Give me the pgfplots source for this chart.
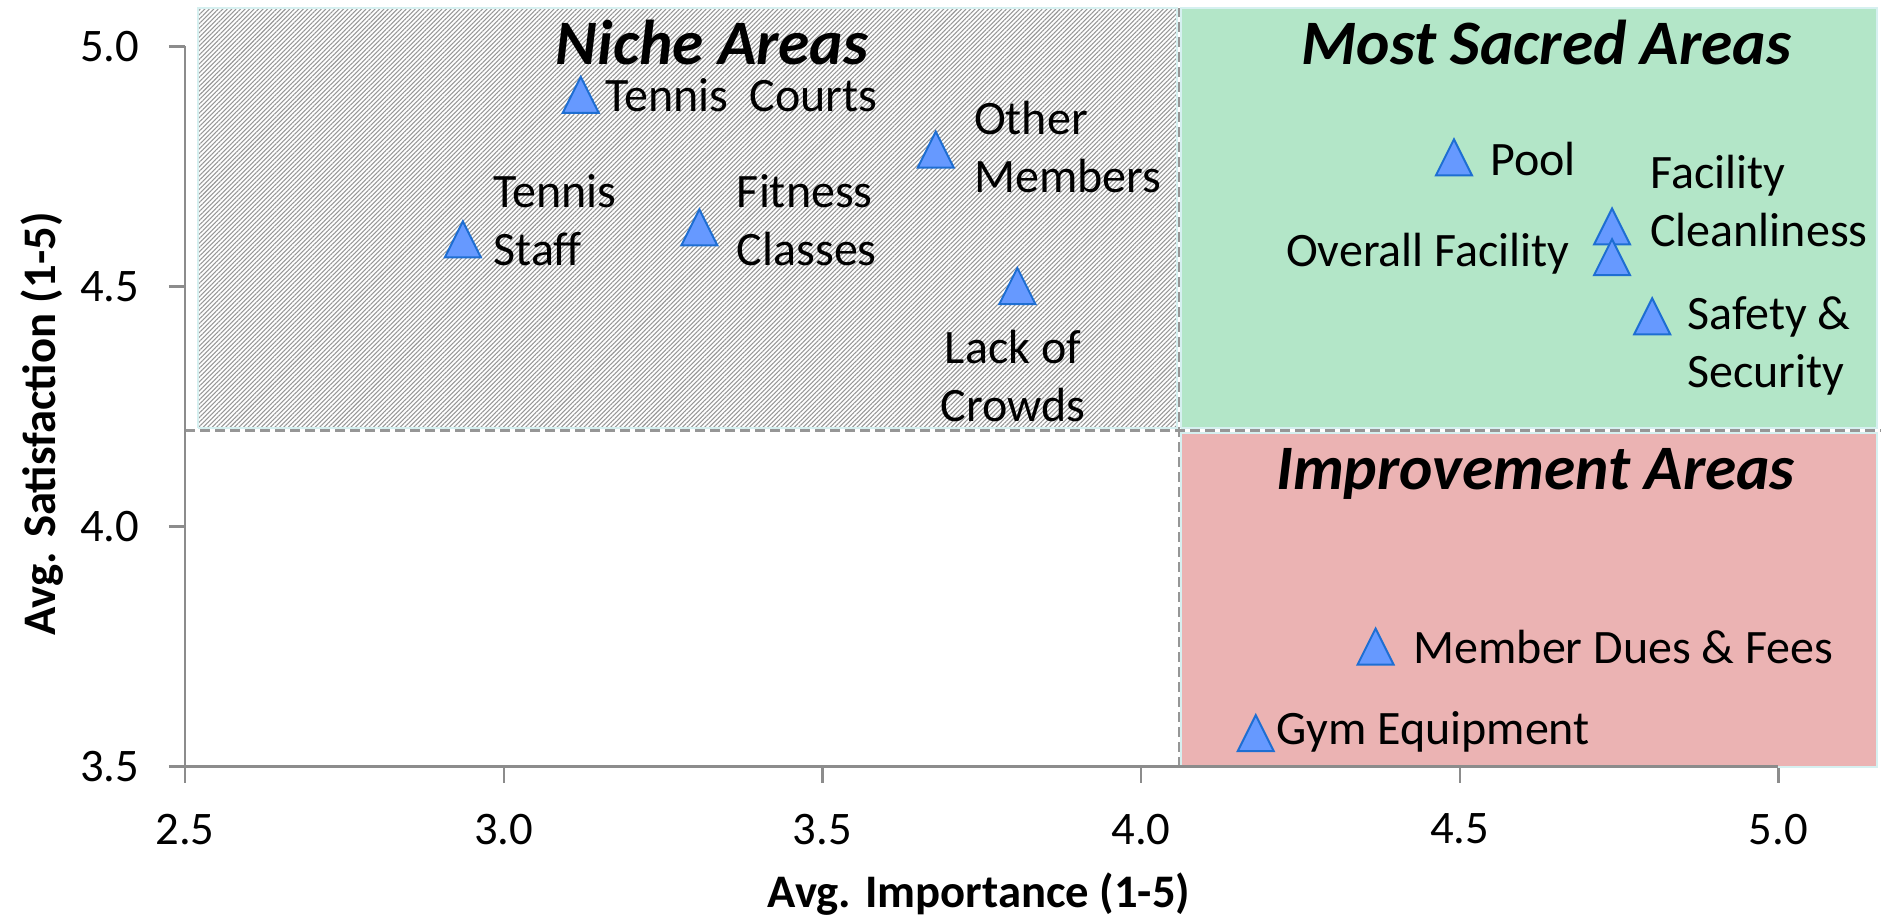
\documentclass[border=0pt]{standalone}
\usepackage{pgfplots}
\pgfplotsset{compat=1.18}
\usepackage{fontspec}
\setmainfont{Carlito}
\usetikzlibrary{patterns.meta}
\definecolor{greenq}{RGB}{179,230,200}
\definecolor{redq}{RGB}{235,179,179}
\definecolor{edgeq}{RGB}{214,240,240}
\definecolor{axgrey}{RGB}{140,140,140}
\definecolor{dashgrey}{RGB}{150,150,150}
\definecolor{hatchgrey}{RGB}{150,150,150}
\definecolor{mfill}{RGB}{102,153,255}
\definecolor{medge}{RGB}{30,110,210}
\pgfdeclareplotmark{isotri}{%
  \pgfpathmoveto{\pgfqpoint{0pt}{\pgfplotmarksize}}%
  \pgfpathlineto{\pgfqpoint{-\pgfplotmarksize}{-\pgfplotmarksize}}%
  \pgfpathlineto{\pgfqpoint{\pgfplotmarksize}{-\pgfplotmarksize}}%
  \pgfpathclose
  \pgfusepathqfillstroke}
\tikzset{lab/.style={inner sep=0pt, font=\fontsize{14.4}{17.3}\selectfont, align=left},
         ttl/.style={inner sep=0pt, font=\bfseries\itshape\fontsize{19}{22}\selectfont}}
\begin{document}
\begin{tikzpicture}
\useasboundingbox (0,0) rectangle (565.2pt,275.1pt);
\begin{axis}[
  at={(55.5pt,45.1pt)}, anchor=south west,
  scale only axis, width=508.6pt, height=227.6pt,
  xmin=2.5, xmax=5.16, ymin=3.5, ymax=5.08,
  clip=false,
  axis line style={draw=none},
  xtick={2.5,3,3.5,4,4.5,5}, ytick={3.5,4,4.5,5},
  tick pos=left, tick align=outside,
  major tick length=4.8pt,
  tick style={axgrey, line width=0.7pt},
  ticklabel style={font=\fontsize{14}{14}\selectfont, inner sep=0pt},
  xticklabel style={anchor=north, yshift=-9.2pt},
  yticklabel style={anchor=east, xshift=-8.7pt},
  /pgf/number format/fixed,
  /pgf/number format/fixed zerofill,
  /pgf/number format/precision=1,
  /pgf/number format/assume math mode=true,
]
% quadrant backgrounds
\addplot[draw=edgeq, line width=0.6pt, pattern={Lines[angle=45,distance=0.95pt,line width=0.32pt]}, pattern color=hatchgrey]
  coordinates {(2.521,4.205) (4.057,4.205) (4.057,5.08) (2.521,5.08) (2.521,4.205)};
\addplot[draw=edgeq, line width=0.6pt, fill=greenq]
  coordinates {(4.062,4.205) (5.155,4.205) (5.155,5.08) (4.062,5.08) (4.062,4.205)};
\addplot[draw=edgeq, line width=0.6pt, fill=redq]
  coordinates {(4.062,3.5) (5.155,3.5) (5.155,4.195) (4.062,4.195) (4.062,3.5)};
% dividers
\addplot[dashgrey, line width=0.7pt, dash pattern=on 3pt off 1.5pt] coordinates {(2.5,4.2) (5.16,4.2)};
\addplot[dashgrey, line width=0.7pt, dash pattern=on 3pt off 1.5pt] coordinates {(4.06,3.5) (4.06,5.08)};
% axis lines
\addplot[axgrey, line width=0.7pt] coordinates {(2.5,5.0) (2.5,3.5) (5.0,3.5)};
% data
\addplot[only marks, mark=isotri, mark size=5.4pt, mark options={fill=mfill, draw=medge, line width=0.6pt}]
  coordinates {
  (3.121,4.899) % Tennis Courts
  (2.936,4.598) % Tennis Staff
  (3.307,4.623) % Fitness Classes
  (3.678,4.785) % Other Members
  (3.806,4.501) % Lack of Crowds
  (4.491,4.769) % Pool
  (4.739,4.625) % Facility Cleanliness
  (4.739,4.561) % Overall Facility
  (4.802,4.438) % Safety & Security
  (4.368,3.750) % Member Dues & Fees
  (4.180,3.570) % Gym Equipment
  };
% labels
\node[lab, anchor=west] at (axis cs:3.158,4.898) {Tennis\ \ Courts};
\node[lab, anchor=west] at (axis cs:2.983,4.638) {Tennis\\Staff};
\node[lab, anchor=west] at (axis cs:3.365,4.638) {Fitness\\Classes};
\node[lab, anchor=west] at (axis cs:3.737,4.790) {Other\\Members};
\node[lab, anchor=center, align=center] at (axis cs:3.799,4.314) {Lack of\\Crowds};
\node[lab, anchor=west] at (axis cs:4.547,4.765) {Pool};
\node[lab, anchor=west] at (axis cs:4.798,4.678) {Facility\\Cleanliness};
\node[lab, anchor=east] at (axis cs:4.6735,4.568) {Overall Facility};
\node[lab, anchor=west] at (axis cs:4.856,4.376) {Safety \&\\Security};
\node[lab, anchor=west] at (axis cs:4.4265,3.750) {Member Dues \& Fees};
\node[lab, anchor=west] at (axis cs:4.212,3.573) {Gym Equipment};
% titles
\node[ttl, anchor=base] at (axis cs:3.327,4.962) {Niche Areas};
\node[ttl, anchor=base] at (axis cs:4.636,4.962) {Most Sacred Areas};
\node[ttl, anchor=base] at (axis cs:4.619,4.078) {Improvement Areas};
% axis titles
\node[inner sep=0pt, font=\bfseries\fontsize{14}{16}\selectfont, anchor=center] at ([yshift=-38.2pt]axis cs:3.746,3.5) {Avg. Importance (1-5)};
\node[inner sep=0pt, font=\bfseries\fontsize{14}{16}\selectfont, anchor=center, rotate=90] at ([xshift=-42.9pt]axis cs:2.5,4.214) {Avg. Satisfaction (1-5)};
\end{axis}
\end{tikzpicture}
\end{document}
